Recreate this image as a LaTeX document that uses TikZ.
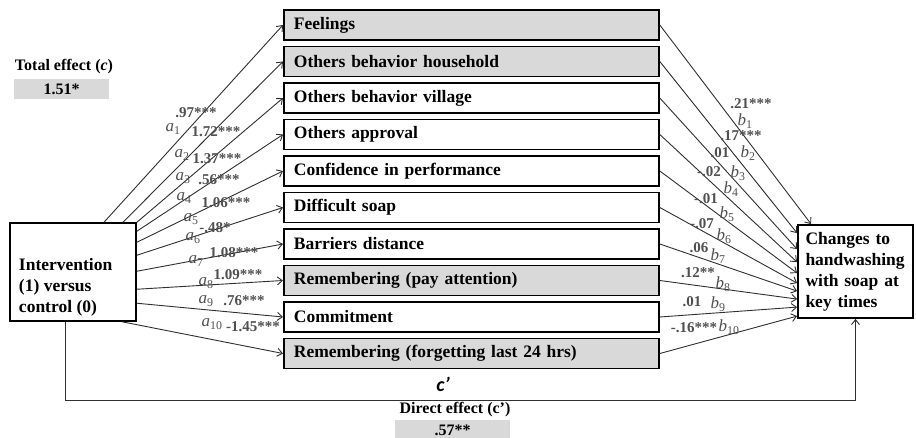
\documentclass[tikz,border=0pt]{standalone}
\usepackage{fontspec}
\setmainfont{Liberation Serif}
\newfontfamily\calibfont{Carlito}
\usetikzlibrary{arrows.meta}
\definecolor{boxgray}{HTML}{D9D9D9}
\definecolor{lblgray}{HTML}{505050}
\definecolor{lngray}{HTML}{303030}
\newcommand{\av}[1]{{\itshape a}\textsubscript{#1}}
\newcommand{\bv}[1]{{\itshape b}\textsubscript{#1}}
\begin{document}
\begin{tikzpicture}[x=1pt,y=-1pt,
  medbox/.style={draw=black, line width=1.8pt, minimum width=375pt, minimum height=30pt, text width=355pt, inner xsep=10pt, inner ysep=0pt, align=left, font=\bfseries\fontsize{17.5}{21}\selectfont, anchor=west},
  graybox/.style={medbox, fill=boxgray},
  whitebox/.style={medbox, fill=white},
  bigbox/.style={draw=black, line width=1.8pt, font=\bfseries\fontsize{17.5}{21}\selectfont},
  arr/.style={draw=lngray, line width=0.9pt, -{Straight Barb[length=5pt,width=8pt]}},
  num/.style={text=lblgray, font=\bfseries\fontsize{15}{17}\selectfont, inner sep=0pt},
  sym/.style={text=lblgray, font=\fontsize{17}{19}\selectfont, inner sep=0pt},
  effect/.style={font=\bfseries\fontsize{16}{18}\selectfont, inner sep=0pt},
  effectval/.style={fill=boxgray, inner sep=0pt, minimum height=20pt, font=\bfseries\fontsize{16}{18}\selectfont},
]
\useasboundingbox[fill=white] (0,0) rectangle (916,438);

% mediators
\node[graybox]  (m1)  at (283,25)    {Feelings};
\node[graybox]  (m2)  at (283,61.5)  {Others behavior household};
\node[whitebox] (m3)  at (283,98)    {Others behavior village};
\node[whitebox] (m4)  at (283,134.5) {Others approval};
\node[whitebox] (m5)  at (283,171)   {Confidence in performance};
\node[whitebox] (m6)  at (283,207.5) {Difficult soap};
\node[whitebox] (m7)  at (283,244)   {Barriers distance};
\node[graybox]  (m8)  at (283,280.5) {Remembering (pay attention)};
\node[whitebox] (m9)  at (283,317)   {Commitment};
\node[graybox]  (m10) at (283,353.5) {Remembering (forgetting last 24 hrs)};

% intervention and outcome
\node[bigbox, minimum width=126pt, minimum height=94pt, inner xsep=9pt, inner ysep=5pt] (int) at (73,272)
  {\parbox[c][84pt][b]{108pt}{\raggedright Intervention\\ (1) versus\\ control (0)}};
\node[bigbox, minimum width=115pt, minimum height=93pt, text width=100pt, inner xsep=7.5pt, align=left] (out) at (855.5,271.5)
  {Changes to\\ handwashing\\ with soap at\\ key times};

% a paths
\draw[arr] ([xshift=31pt]int.north) -- (m1.west);
\draw[arr] ([xshift=50pt]int.north) -- (m2.west);
\draw[arr] (int.north east) -- (m3.west);
\draw[arr] ([yshift=-9pt]int.north east) -- (m4.west);
\draw[arr] ([yshift=-20pt]int.north east) -- (m5.west);
\draw[arr] ([yshift=-33pt]int.north east) -- (m6.west);
\draw[arr] ([yshift=-49pt]int.north east) -- (m7.west);
\draw[arr] ([yshift=-67pt]int.north east) -- (m8.west);
\draw[arr] ([yshift=-81pt]int.north east) -- (m9.west);
\draw[arr] ([xshift=49pt]int.south) -- (m10.west);

% b paths
\draw[arr] (m1.east)  -- ([xshift=14pt]out.north west);
\draw[arr] (m2.east)  -- ([yshift=-9pt]out.north west);
\draw[arr] (m3.east)  -- ([yshift=-25pt]out.north west);
\draw[arr] (m4.east)  -- ([yshift=-38pt]out.north west);
\draw[arr] (m5.east)  -- ([yshift=-49pt]out.north west);
\draw[arr] (m6.east)  -- ([yshift=-59pt]out.north west);
\draw[arr] (m7.east)  -- ([yshift=-67pt]out.north west);
\draw[arr] (m8.east)  -- ([yshift=-75pt]out.north west);
\draw[arr] (m9.east)  -- ([yshift=-83pt]out.north west);
\draw[arr] (m10.east) -- ([yshift=-92pt]out.north west);

% direct path
\draw[arr] ([xshift=-8pt]int.south) -- ++(0,79) -| (out.south);

% a labels
\node[num] (na1) at (196,113) {.97***};   \node[sym] (sa1) at (173,129) {\av{1}};
\node[num] (na2) at (216,132) {1.72***};  \node[sym] (sa2) at (182,155) {\av{2}};
\node[num] (na3) at (217,159) {1.37***};  \node[sym] (sa3) at (183,178) {\av{3}};
\node[num] (na4) at (219,180) {.56***};   \node[sym] (sa4) at (184,198) {\av{4}};
\node[num] (na5) at (226,203) {1.06***};  \node[sym] (sa5) at (191,219) {\av{5}};
\node[num] (na6) at (215,228) {-.48*};    \node[sym] (sa6) at (193,238) {\av{6}};
\node[num] (na7) at (234,253) {1.08***};  \node[sym] (sa7) at (196,261) {\av{7}};
\node[num] (na8) at (238,275) {1.09***};  \node[sym] (sa8) at (206,283) {\av{8}};
\node[num] (na9) at (244,301) {.76***};   \node[sym] (sa9) at (206,301) {\av{9}};
\node[num] (na10) at (253,327) {-1.45***};\node[sym] (sa10) at (212,324) {\av{10}};

% b labels
\node[num] (nb1) at (751,104) {.21***};   \node[sym] (sb1) at (745,121) {\bv{1}};
\node[num] (nb2) at (741,136) {.17***};   \node[sym] (sb2) at (748,153) {\bv{2}};
\node[num] (nb3) at (720,153) {.01};      \node[sym] (sb3) at (738,173) {\bv{3}};
\node[num] (nb4) at (709,172) {-.02};     \node[sym] (sb4) at (731,189) {\bv{4}};
\node[num] (nb5) at (706,199) {-.01};     \node[sym] (sb5) at (727,214) {\bv{5}};
\node[num] (nb6) at (702,224) {-.07};     \node[sym] (sb6) at (724,236) {\bv{6}};
\node[num] (nb7) at (699,248) {.06};      \node[sym] (sb7) at (718,256) {\bv{7}};
\node[num] (nb8) at (698,273) {.12**};    \node[sym] (sb8) at (723,284) {\bv{8}};
\node[num] (nb9) at (692,302) {.01};      \node[sym] (sb9) at (718,304) {\bv{9}};
\node[num] (nb10) at (694,328) {-.16***}; \node[sym] (sb10) at (729,327) {\bv{10}};

% effects
\node[effect] (tot) at (64,67) {Total effect (\textit{c})};
\node[effectval, minimum width=95pt] (totv) at (61.5,89) {1.51*};
\node[font=\calibfont\bfseries\itshape\fontsize{20}{22}\selectfont, inner sep=0pt] (cp) at (443,384) {c’};
\node[effect] (dir) at (455,410) {Direct effect (c’)};
\node[effectval, minimum width=115pt] (dirv) at (452.5,430) {.57**};
\end{tikzpicture}
\end{document}
